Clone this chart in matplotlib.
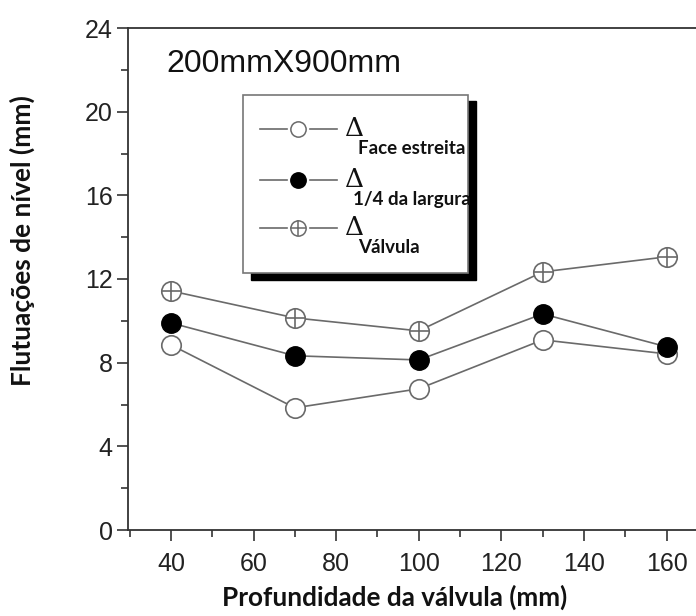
import matplotlib
matplotlib.use("Agg")
import matplotlib.pyplot as plt
from matplotlib.patches import Rectangle
from matplotlib.lines import Line2D
from matplotlib.ticker import MultipleLocator

depth = [40, 70, 100, 130, 160]
face_estreita = [8.85, 5.84, 6.75, 9.09, 8.42]
quarto_largura = [9.90, 8.33, 8.13, 10.33, 8.76]
valvula = [11.43, 10.14, 9.52, 12.34, 13.06]

title_text = "200mmX900mm"
xlabel = "Profundidade da válvula (mm)"
ylabel = "Flutuações de nível (mm)"
legend_subs = ["Face estreita", "1/4 da largura", "Válvula"]

W, H = 696, 616
fig = plt.figure(figsize=(W / 100, H / 100), dpi=100)
L, R, B, T = 128, 700, 530, 28
ax = fig.add_axes([L / W, (H - B) / H, (R - L) / W, (B - T) / H])

lc = "#6a6a6a"
ms = 14
ax.plot(depth, face_estreita, color=lc, lw=1.2, marker="o", ms=ms,
        mfc="white", mec=lc, mew=1.2, zorder=3)
ax.plot(depth, quarto_largura, color=lc, lw=1.2, marker="o", ms=ms,
        mfc="black", mec="black", mew=1.0, zorder=4)
ax.plot(depth, valvula, color=lc, lw=1.2, marker="o", ms=ms,
        mfc="white", mec=lc, mew=1.2, zorder=3)
ax.plot(depth, valvula, ls="none", marker="+", ms=ms, mec=lc, mew=1.2, zorder=5)

ax.set_xlim(29.6, 29.6 + (R - L) / 4.13)
ax.set_ylim(0, 24)
ax.xaxis.set_major_locator(MultipleLocator(20))
ax.xaxis.set_minor_locator(MultipleLocator(10))
ax.yaxis.set_major_locator(MultipleLocator(4))
ax.yaxis.set_minor_locator(MultipleLocator(2))
ax.set_xticks([40, 60, 80, 100, 120, 140, 160])
ax.tick_params(which="major", direction="out", length=8, width=1.2, color="#333333",
               labelsize=18)
ax.tick_params(axis="x", which="major", pad=8)
ax.tick_params(axis="y", which="major", pad=3)
ax.tick_params(which="minor", direction="out", length=5, width=1.2, color="#333333")
for lab in ax.get_xticklabels() + ax.get_yticklabels():
    lab.set_family("Liberation Sans")
    lab.set_color("#222222")
for s in ["left", "bottom", "top"]:
    ax.spines[s].set_linewidth(1.3)
    ax.spines[s].set_color("#333333")
ax.spines["right"].set_visible(False)

fig.text(395 / W, 1 - 597 / H, xlabel, ha="center", va="center",
         fontsize=18.8, fontweight="bold", family="Lato", color="#111111")
fig.text(22 / W, 1 - 241 / H, ylabel, ha="center", va="center", rotation=90,
         fontsize=19, fontweight="bold", family="Lato", color="#111111")

fig.text(166 / W, 1 - 72 / H, title_text, ha="left", va="baseline",
         fontsize=23, family="Liberation Sans", color="#111111")

def fx(px):
    return px / W

def fy(py):
    return 1 - py / H

shadow = Rectangle((fx(251), fy(280)), fx(476) - fx(251), fy(101) - fy(280),
                   transform=fig.transFigure, facecolor="black", edgecolor="black", zorder=6)
box = Rectangle((fx(243), fy(273)), fx(468) - fx(243), fy(95) - fy(273),
                transform=fig.transFigure, facecolor="white", edgecolor="#777777",
                lw=1.2, zorder=7)
fig.patches.extend([shadow, box])

rows_y = [129, 180, 228]
styles = [dict(mfc="white", mec=lc), dict(mfc="black", mec="black"), dict(mfc="white", mec=lc)]
for i, (ry, st, sub) in enumerate(zip(rows_y, styles, legend_subs)):
    fig.lines.append(Line2D([fx(260), fx(287)], [fy(ry), fy(ry)], transform=fig.transFigure,
                            color=lc, lw=1.2, zorder=8))
    fig.lines.append(Line2D([fx(310), fx(337)], [fy(ry), fy(ry)], transform=fig.transFigure,
                            color=lc, lw=1.2, zorder=8))
    fig.lines.append(Line2D([fx(298)], [fy(ry)], transform=fig.transFigure, ls="none",
                            marker="o", ms=11, mew=1.1, zorder=9, **st))
    if i == 2:
        fig.lines.append(Line2D([fx(298)], [fy(ry)], transform=fig.transFigure, ls="none",
                                marker="+", ms=11, mew=1.1, mec=lc, zorder=10))
    fig.text(fx(345), fy(ry + 7), "Δ", ha="left", va="baseline", fontsize=19,
             family="DejaVu Serif", color="#111111", zorder=10)
    x_sub = 358 if i != 1 else 353
    fig.text(fx(x_sub), fy(ry + 25), sub, ha="left", va="baseline", fontsize=13.5,
             fontweight="bold", family="Lato", color="#111111", zorder=10)

fig.savefig("out.png", dpi=100)
